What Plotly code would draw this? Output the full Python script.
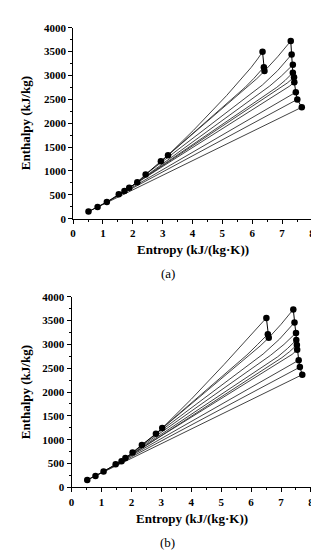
import plotly.graph_objects as go

# ---------------- Panel (a) data ----------------
liq_s_a = [0.515, 0.82, 1.13, 1.53, 1.72, 1.88, 2.15, 2.43, 2.94, 3.18]
liq_h_a = [150, 246, 348, 512, 580, 648, 765, 928, 1201, 1331]
hp_s_a = [6.345, 6.39, 6.41]
hp_h_a = [3495, 3174, 3092]
lp_s_a = [7.29, 7.32, 7.36, 7.36, 7.40, 7.41, 7.46, 7.51, 7.66]
lp_h_a = [3720, 3440, 3222, 3058, 2962, 2860, 2648, 2498, 2334]

iso_a = [
    [(0.515, 150), (7.66, 2334)],
    [(0.82, 246), (7.51, 2498)],
    [(1.13, 348), (7.46, 2648)],
    [(1.53, 512), (7.10, 2700), (7.26, 2780), (7.41, 2860)],
    [(1.72, 580), (6.94, 2732), (7.17, 2840), (7.40, 2962)],
    [(1.88, 648), (6.82, 2750), (7.10, 2895), (7.36, 3058)],
    [(2.15, 765), (6.585, 2778), (6.98, 2990), (7.36, 3222)],
    [(2.43, 928), (6.34, 2800), (6.85, 3100), (7.32, 3440)],
    [(2.94, 1201), (5.91, 2786), (6.15, 2930), (6.41, 3092), (6.85, 3390), (7.29, 3720)],
    [(3.18, 1331), (5.76, 2750), (6.05, 2935), (6.39, 3174)],
    [(3.18, 1331), (3.70, 1640), (4.03, 1850), (5.14, 2578), (5.67, 2950),
     (5.96, 3164), (6.18, 3345), (6.345, 3495)],
]

# ---------------- Panel (b) data ----------------
liq_s_b = [0.525, 0.80, 1.07, 1.475, 1.67, 1.80, 2.04, 2.35, 2.82, 3.03]
liq_h_b = [157, 239, 335, 485, 547, 615, 732, 889, 1128, 1244]
hp_s_b = [6.51, 6.56, 6.59]
hp_h_b = [3555, 3214, 3138]
lp_s_b = [7.41, 7.45, 7.50, 7.51, 7.53, 7.54, 7.59, 7.63, 7.71]
lp_h_b = [3733, 3460, 3241, 3091, 2989, 2886, 2667, 2523, 2365]

iso_b = [
    [(0.525, 157), (7.71, 2365)],
    [(0.80, 239), (7.63, 2523)],
    [(1.07, 335), (7.59, 2667)],
    [(1.475, 485), (7.18, 2700), (7.37, 2790), (7.54, 2886)],
    [(1.67, 547), (7.03, 2721), (7.29, 2850), (7.53, 2989)],
    [(1.80, 615), (6.89, 2740), (7.21, 2910), (7.51, 3091)],
    [(2.04, 732), (6.65, 2771), (7.10, 3000), (7.50, 3241)],
    [(2.35, 889), (6.40, 2797), (6.95, 3110), (7.45, 3460)],
    [(2.82, 1128), (6.00, 2797), (6.30, 2965), (6.59, 3138), (7.00, 3420), (7.41, 3733)],
    [(3.03, 1244), (5.86, 2778), (6.22, 3000), (6.56, 3214)],
    [(3.03, 1244), (3.60, 1590), (4.00, 1850), (5.10, 2580), (5.70, 2990),
     (6.05, 3225), (6.30, 3400), (6.51, 3555)],
]

x_ticks = [0, 1, 2, 3, 4, 5, 6, 7, 8]
y_ticks = [0, 500, 1000, 1500, 2000, 2500, 3000, 3500, 4000]

LINE_C = "#2e2e2e"
DOT_C = "#000000"
SERIF = "Liberation Serif, Times New Roman, serif"

fig = go.Figure()


def add_panel(iso, liq_s, liq_h, hp_s, hp_h, lp_s, lp_h, xa, ya):
    xs, ys = [], []
    for curve in iso:
        for s, h in curve:
            xs.append(s)
            ys.append(h)
        xs.append(None)
        ys.append(None)
    fig.add_trace(go.Scatter(x=xs, y=ys, mode="lines",
                             line=dict(color=LINE_C, width=0.9),
                             xaxis=xa, yaxis=ya, hoverinfo="skip"))
    for sx, hy in [(liq_s, liq_h), (hp_s, hp_h), (lp_s, lp_h)]:
        fig.add_trace(go.Scatter(x=sx, y=hy, mode="lines+markers",
                                 line=dict(color=DOT_C, width=1),
                                 marker=dict(color=DOT_C, size=6.5),
                                 xaxis=xa, yaxis=ya))


add_panel(iso_a, liq_s_a, liq_h_a, hp_s_a, hp_h_a, lp_s_a, lp_h_a, "x", "y")
add_panel(iso_b, liq_s_b, liq_h_b, hp_s_b, hp_h_b, lp_s_b, lp_h_b, "x2", "y2")

W, H = 319, 550
TICK_FONT = dict(family=SERIF, size=11, color="black", weight="bold")


def xax(domain, anchor):
    return dict(domain=domain, anchor=anchor, range=[0, 8], tickvals=x_ticks,
                showline=True, linecolor="black", linewidth=1, mirror=False,
                ticks="outside", ticklen=4, tickwidth=1, tickcolor="black",
                showgrid=False, zeroline=False, ticklabeloverflow="allow",
                minor=dict(dtick=0.5, ticks="outside", ticklen=2, tickcolor="black", showgrid=False),
                tickfont=TICK_FONT)


def yax(domain, anchor):
    return dict(domain=domain, anchor=anchor, range=[0, 4000], tickvals=y_ticks,
                showline=True, linecolor="black", linewidth=1, mirror=False,
                ticks="outside", ticklen=4, tickwidth=1, tickcolor="black",
                showgrid=False, zeroline=False, ticklabeloverflow="allow",
                minor=dict(dtick=250, ticks="outside", ticklen=2, tickcolor="black", showgrid=False),
                tickfont=TICK_FONT)


fig.update_layout(
    width=W, height=H,
    margin=dict(l=0, r=0, t=0, b=0),
    paper_bgcolor="white", plot_bgcolor="white",
    showlegend=False,
    xaxis=xax([63.3 / W, 306.7 / W], "y"),
    yaxis=yax([1 - 209.3 / H, 1 - 14 / H], "x"),
    xaxis2=xax([61.7 / W, 305.7 / W], "y2"),
    yaxis2=yax([1 - 484 / H, 1 - 289 / H], "x2"),
)

ann = []
title_font = dict(family=SERIF, size=13, color="black", weight="bold")
lab_font = dict(family=SERIF, size=13, color="black")
for xc, ytitle, ymid, lab, ylab in [
    (185 / W, 1 - 241 / H, 1 - 112 / H, "(a)", 1 - 265 / H),
    (184 / W, 1 - 516 / H, 1 - 387 / H, "(b)", 1 - 540 / H),
]:
    ann.append(dict(text="Entropy (kJ/(kg·K))", x=xc, y=ytitle, xref="paper", yref="paper",
                    showarrow=False, font=title_font, xanchor="center", yanchor="middle"))
    ann.append(dict(text="Enthalpy (kJ/kg)", x=15 / W, y=ymid, xref="paper", yref="paper",
                    showarrow=False, font=title_font, textangle=-90,
                    xanchor="center", yanchor="middle"))
    ann.append(dict(text=lab, x=160 / W, y=ylab, xref="paper", yref="paper",
                    showarrow=False, font=lab_font, xanchor="center", yanchor="middle"))
fig.update_layout(annotations=ann)

fig.write_html("out.html")
